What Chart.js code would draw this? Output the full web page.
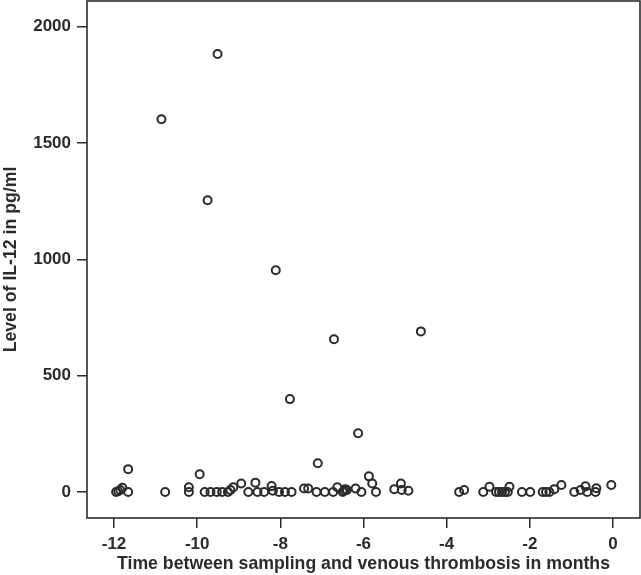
<!DOCTYPE html>
<html>
<head>
<meta charset="utf-8">
<script src="https://cdn.jsdelivr.net/npm/chart.js@4"></script>
<style>
  html, body { margin: 0; padding: 0; background: #fff; overflow: hidden; }
  /* el lienzo sobresale un poco arriba y a la derecha para ajustar el marco */
  #wrap { width: 646px; height: 580px; margin-top: -5px; }
</style>
</head>
<body>
<div id="wrap"><canvas id="grafico"></canvas></div>
<script>
// meses antes de la trombosis / nivel de IL-12 (pg/ml)
const months = [
  -10.86, -9.51, -9.75, -8.11, -6.71, -7.77, -6.13, -4.62, -7.10, -11.66, -9.94,
  -11.95, -11.90, -11.85, -11.80, -11.66, -10.77, -10.20, -10.20,
  -9.82, -9.68, -9.53, -9.40, -9.26, -9.20, -9.13, -8.94, -8.77, -8.60, -8.55,
  -8.39, -8.21, -8.18, -8.03, -7.89, -7.73, -7.43, -7.33, -7.13, -6.93, -6.73,
  -6.63, -6.50, -6.47, -6.44, -6.40, -6.19, -6.05, -5.87, -5.79, -5.70,
  -5.26, -5.10, -5.08, -4.92, -3.70, -3.58, -3.12, -2.97, -2.81, -2.74, -2.67,
  -2.60, -2.53, -2.49, -2.19, -1.99, -1.69, -1.61, -1.53, -1.41, -1.24,
  -0.93, -0.78, -0.66, -0.62, -0.40, -0.42, -0.04
];
const il12 = [
  1602, 1882, 1254, 953, 656, 399, 252, 690, 123, 98, 76,
  0, 3, 8, 18, 0, 0, 20, 0,
  0, 0, 0, 0, 0, 8, 20, 36, 0, 40, 0,
  0, 25, 5, 0, 0, 0, 15, 15, 0, 0, 0,
  20, 0, 5, 12, 8, 15, 0, 67, 36, 0,
  12, 36, 8, 5, 0, 8, 0, 22, 0, 0, 0,
  0, 0, 22, 0, 0, 0, 0, 0, 12, 30,
  0, 8, 24, 0, 16, 0, 30
];
const xTicks = [-12, -10, -8, -6, -4, -2, 0];
const yTicks = [0, 500, 1000, 1500, 2000];

const gris = '#2b2b2b';
const fuente = { family: 'Liberation Sans, Arial, sans-serif', size: 17, weight: 'bold' };
const fuenteTitulo = { family: 'Liberation Sans, Arial, sans-serif', size: 17.7, weight: 'bold' };

// marco completo alrededor del área del gráfico
const marco = {
  id: 'marco',
  afterDatasetsDraw(chart) {
    const a = chart.chartArea;
    const ctx = chart.ctx;
    ctx.save();
    ctx.strokeStyle = gris;
    ctx.lineWidth = 1.6;
    ctx.strokeRect(a.left, a.top, a.right - a.left, a.bottom - a.top);
    ctx.restore();
  }
};

new Chart(document.getElementById('grafico'), {
  type: 'scatter',
  data: {
    datasets: [{
      data: months.map((m, i) => ({ x: m, y: il12[i] })),
      pointStyle: 'circle',
      pointRadius: 4,
      pointBorderWidth: 2,
      pointBorderColor: gris,
      pointBackgroundColor: 'rgba(255,255,255,0)'
    }]
  },
  options: {
    responsive: true,
    maintainAspectRatio: false,
    animation: false,
    layout: { padding: { top: 1, right: 2, left: 0, bottom: 0 } },
    plugins: { legend: { display: false }, tooltip: { enabled: false } },
    scales: {
      x: {
        type: 'linear',
        min: -12.65,
        max: 0.65,
        afterBuildTicks: s => { s.ticks = xTicks.map(v => ({ value: v })); },
        afterFit: s => { s.height = 57; s.paddingLeft = 0; s.paddingRight = 0; },
        grid: { drawOnChartArea: false, drawTicks: true, tickLength: 10, color: gris, lineWidth: 1.5 },
        border: { display: false },
        ticks: { color: gris, font: fuente, padding: 6, maxRotation: 0, callback: v => String(v) },
        title: {
          display: true,
          text: 'Time between sampling and venous thrombosis in months',
          color: gris,
          font: fuenteTitulo,
          padding: { top: 0, bottom: 0 }
        }
      },
      y: {
        min: -112,
        max: 2110,
        afterBuildTicks: s => { s.ticks = yTicks.map(v => ({ value: v })); },
        afterFit: s => { s.width = 87; s.paddingTop = 0; s.paddingBottom = 0; },
        grid: { drawOnChartArea: false, drawTicks: true, tickLength: 10, color: gris, lineWidth: 1.5 },
        border: { display: false },
        ticks: { color: gris, font: fuente, padding: 6, callback: v => String(v) },
        title: {
          display: true,
          text: 'Level of IL-12 in pg/ml',
          color: gris,
          font: fuenteTitulo,
          padding: { top: 0, bottom: 0 }
        }
      }
    }
  },
  plugins: [marco]
});
</script>
</body>
</html>
